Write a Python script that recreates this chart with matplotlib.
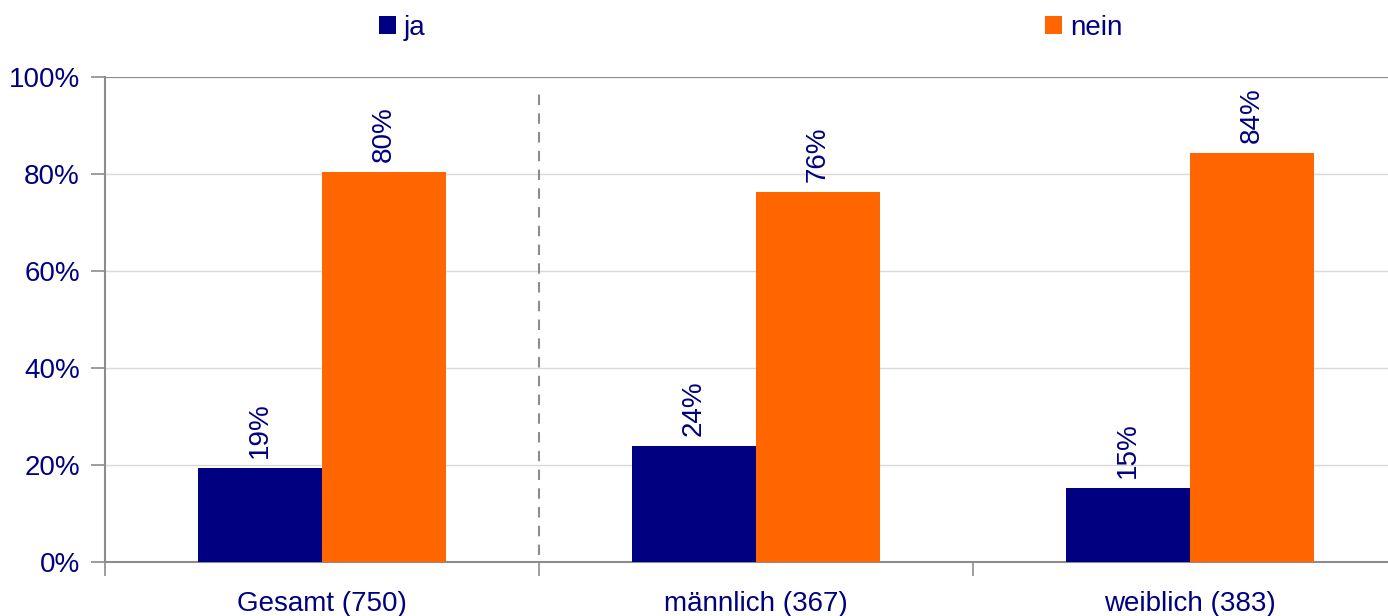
import matplotlib.pyplot as plt
import numpy as np

# data
categories = ["Gesamt (750)", "männlich (367)", "weiblich (383)"]
ja = [19.4, 23.9, 15.3]
nein = [80.4, 76.3, 84.4]
series_names = ["ja", "nein"]

navy = "#000080"
orange = "#FF6600"
axis_gray = "#8c8c8c"

plt.rcParams['font.family'] = ['Liberation Sans', 'DejaVu Sans']

fig = plt.figure(figsize=(13.88, 6.16), dpi=100)
ax = fig.add_axes([105 / 1388, 1 - 562 / 616, 1302 / 1388, 485 / 616])

x = np.arange(len(categories))
w = 0.2857
b1 = ax.bar(x - w / 2, ja, w, color=navy, label=series_names[0], zorder=3)
b2 = ax.bar(x + w / 2, nein, w, color=orange, label=series_names[1], zorder=3)

# value labels
for bars, vals in ((b1, ja), (b2, nein)):
    for r, v in zip(bars, vals):
        ax.annotate(f"{round(v)}%", (r.get_x() + r.get_width() / 2, v),
                    xytext=(0, 7), textcoords="offset points",
                    rotation=90, ha="center", va="bottom",
                    fontsize=20, color=navy)

ax.set_xlim(-0.5, 2.5)
ax.set_ylim(0, 100)
ax.set_yticks(range(0, 101, 20))
ax.set_yticklabels([f"{t}%" for t in range(0, 101, 20)])
ax.yaxis.grid(True, color="#d9d9d9", linewidth=1, zorder=0)
ax.axhline(100, color=axis_gray, linewidth=1.5, zorder=2)

# category ticks on boundaries, labels in the middle
ax.set_xticks([-0.5, 0.5, 1.5, 2.5])
ax.set_xticklabels([])
ax.set_xticks(x, minor=True)
ax.set_xticklabels(categories, minor=True)
ax.tick_params(axis="x", which="major", length=10, color=axis_gray, width=1.2)
ax.tick_params(axis="x", which="minor", length=0, pad=21, labelsize=20, labelcolor=navy)
ax.tick_params(axis="y", length=10, color=axis_gray, width=1.2, pad=8,
               labelsize=20, labelcolor=navy)

# separator between total and gender groups
ax.axvline(0.5, ymin=0.015, ymax=0.97, color="#8c8c8c", linestyle=(0, (5, 4)),
           linewidth=1.5, zorder=2)

for s in ["top", "right"]:
    ax.spines[s].set_visible(False)
for s in ["left", "bottom"]:
    ax.spines[s].set_color(axis_gray)
    ax.spines[s].set_linewidth(1.5)

# legend
fig.legend(handles=[b1, b2], loc="center", bbox_to_anchor=(0.541, 0.955), ncol=2,
           frameon=False, fontsize=20, handlelength=0.6, handleheight=0.6,
           handletextpad=0.3, columnspacing=22.3, labelcolor=navy)

fig.savefig("out.png", dpi=100)
